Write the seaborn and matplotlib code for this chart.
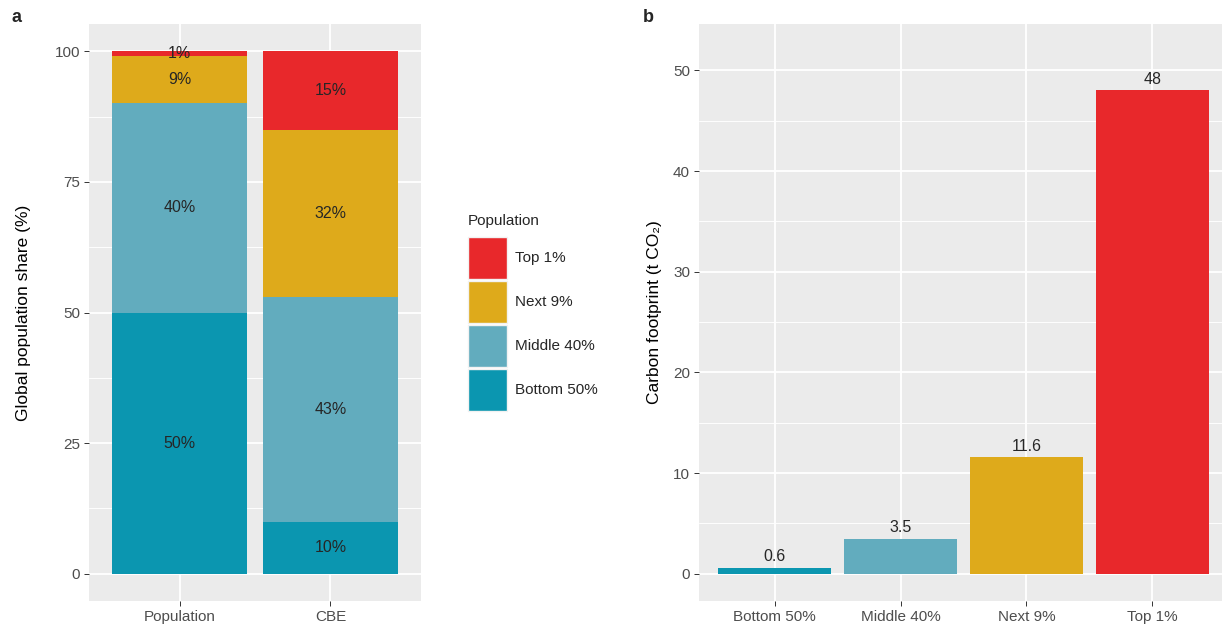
import numpy as np
import pandas as pd
import matplotlib
matplotlib.use("Agg")
import matplotlib.pyplot as plt
from matplotlib.patches import Patch
import seaborn as sns

# ---------------------------------------------------------------------------
# Data
# ---------------------------------------------------------------------------
groups = ["Bottom 50%", "Middle 40%", "Next 9%", "Top 1%"]
colors = ["#0B96B0", "#62ACBE", "#DEAA1B", "#E8282B"]
bars_a = ["Population", "CBE"]
population_share = [50, 40, 9, 1]
cbe_share = [10, 43, 32, 15]
footprint = [0.6, 3.5, 11.6, 48]

sns.set_theme(style="darkgrid", rc={
    "axes.facecolor": "#EBEBEB",
    "grid.color": "white",
    "axes.edgecolor": "#EBEBEB",
})
plt.rcParams["font.family"] = ["Liberation Sans", "DejaVu Sans"]

FS_TICK = 11
FS_LAB = 11.5
FS_TITLE = 12.5
FS_LEG = 11
TICK_C = "#4D4D4D"

fig = plt.figure(figsize=(12.22, 6.30), dpi=100)
ax_a = fig.add_axes([89 / 1222, 1 - 601 / 630, 332 / 1222, 577 / 630])
ax_b = fig.add_axes([699 / 1222, 1 - 601 / 630, 529 / 1222, 577 / 630])

# ---------------------------------------------------------------------------
# Panel a: stacked shares (drawn as overlapping cumulative bars)
# ---------------------------------------------------------------------------
shares = pd.DataFrame({"Population": population_share, "CBE": cbe_share}, index=groups)
cum = shares.cumsum()
for i in range(len(groups) - 1, -1, -1):
    layer = pd.DataFrame({"bar": bars_a, "value": cum.iloc[i].values})
    sns.barplot(data=layer, x="bar", y="value", order=bars_a, color=colors[i],
                width=0.9, saturation=1, ax=ax_a, linewidth=0, zorder=3)

for j, b in enumerate(bars_a):
    for i, g in enumerate(groups):
        mid = cum.iloc[i][b] - shares.iloc[i][b] / 2
        ax_a.text(j, mid, f"{shares.iloc[i][b]}%", ha="center", va="center",
                  fontsize=FS_LAB, color="#262626", zorder=4)

ax_a.set_xlim(-0.6, 1.6)
ax_a.set_ylim(-5.2, 105.2)
ax_a.set_yticks([0, 25, 50, 75, 100])
ax_a.set_yticks([12.5, 37.5, 62.5, 87.5], minor=True)
ax_a.set_xlabel("")
ax_a.set_ylabel("Global population share (%)", fontsize=FS_TITLE, color="black", labelpad=17)

# ---------------------------------------------------------------------------
# Panel b: carbon footprint per group
# ---------------------------------------------------------------------------
fp = pd.DataFrame({"group": groups, "footprint": footprint})
sns.barplot(data=fp, x="group", y="footprint", hue="group", order=groups,
            hue_order=groups, palette=colors, width=0.9, saturation=1,
            legend=False, ax=ax_b, linewidth=0, zorder=3)
for j, v in enumerate(footprint):
    ax_b.annotate(f"{v:g}", (j, v), xytext=(0, 2.5), textcoords="offset points",
                  ha="center", va="bottom", fontsize=FS_LAB, color="#262626", zorder=4)

ax_b.set_xlim(-0.6, 3.6)
ax_b.set_ylim(-2.7, 54.6)
ax_b.set_yticks([0, 10, 20, 30, 40, 50])
ax_b.set_yticks([5, 15, 25, 35, 45], minor=True)
ax_b.set_xlabel("")
ax_b.set_ylabel("Carbon footprint (t CO\u2082)", fontsize=FS_TITLE, color="black", labelpad=8)

for ax in (ax_a, ax_b):
    ax.grid(True, which="major", color="white", linewidth=1.3, zorder=0)
    ax.grid(True, which="minor", axis="y", color="white", linewidth=0.65, zorder=0)
    ax.set_axisbelow(True)
    ax.tick_params(axis="both", which="major", length=3.5, width=0.7, color="#333333",
                   labelsize=FS_TICK, labelcolor=TICK_C, pad=3, bottom=True, left=True)
    ax.tick_params(which="minor", length=0)
    for s in ax.spines.values():
        s.set_visible(False)

# legend
handles = [Patch(facecolor=colors[i], edgecolor="#F2F2F2", linewidth=1.0, label=groups[i])
           for i in range(len(groups) - 1, -1, -1)]
leg = fig.legend(handles=handles, title="Population", loc="upper left",
                 bbox_to_anchor=(462 / 1222, 1 - 208 / 630), frameon=False,
                 fontsize=FS_LEG, title_fontsize=FS_LEG, handlelength=2.55, handleheight=3.85,
                 labelspacing=0.13, handletextpad=0.5, borderaxespad=0)
leg._legend_box.align = "left"
leg._legend_box.sep = 6.5

fig.text(12 / 1222, 1 - 18 / 630, "a", fontsize=13, fontweight="bold", va="center")
fig.text(643 / 1222, 1 - 18 / 630, "b", fontsize=13, fontweight="bold", va="center")

fig.savefig("out.png", dpi=100)
